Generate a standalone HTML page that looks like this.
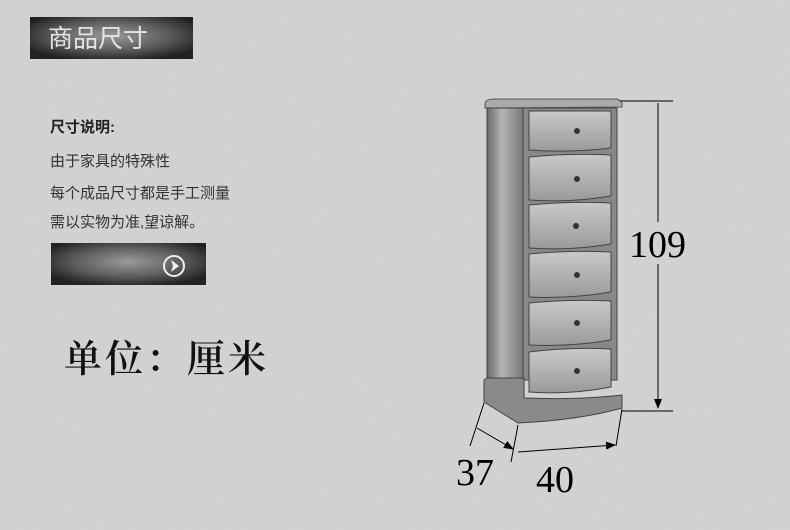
<!DOCTYPE html>
<html><head><meta charset="utf-8"><style>
body{margin:0;width:790px;height:530px;overflow:hidden;background:#d5d5d5;font-family:"Liberation Sans","Noto Sans CJK SC",sans-serif;position:relative}
.t{position:absolute;white-space:nowrap}
</style></head><body>
<svg width="790" height="530" style="position:absolute;left:0;top:0">
<defs>
<filter id="n"><feTurbulence type="fractalNoise" baseFrequency="0.9" numOctaves="2" seed="3"/><feColorMatrix values="0 0 0 0 0.5  0 0 0 0 0.5  0 0 0 0 0.5  0 0 0 0.35 0"/></filter>
<radialGradient id="g1" cx="0.5" cy="0.45" r="0.6"><stop offset="0" stop-color="#9a9a9a"/><stop offset="0.6" stop-color="#5a5a5a"/><stop offset="1" stop-color="#222"/></radialGradient>
<linearGradient id="side" x1="0" x2="1"><stop offset="0" stop-color="#6a6a6a"/><stop offset="0.4" stop-color="#b5b5b5"/><stop offset="1" stop-color="#777"/></linearGradient>
<linearGradient id="dr" x1="0" y1="0" x2="0" y2="1"><stop offset="0" stop-color="#c9c9c9"/><stop offset="1" stop-color="#9a9a9a"/></linearGradient>
<marker id="a" markerWidth="10" markerHeight="10" refX="9" refY="5" orient="auto" markerUnits="userSpaceOnUse"><path d="M0,1 L10,5 L0,9 z" fill="#000"/></marker>
</defs>
<rect width="790" height="530" fill="#d6d6d6"/>
<rect width="790" height="530" filter="url(#n)"/>
<rect x="30" y="17" width="163" height="42" fill="url(#g1)"/>
<rect x="51" y="243" width="155" height="42" fill="url(#g1)"/>
<circle cx="174" cy="266" r="10" fill="none" stroke="#eee" stroke-width="2"/>
<path d="M171,260 L179,266 L171,272 L173,266 z" fill="#eee"/>
<path d="M485,103 Q486,99 495,99 L617,99 Q623,101 622,107 L485,108 z" fill="#aaa" stroke="#555"/>
<rect x="487" y="108" width="37" height="272" fill="url(#side)" stroke="#444"/>
<rect x="523" y="108" width="94" height="272" fill="#888" stroke="#444"/>
<g fill="url(#dr)" stroke="#444">
<path d="M529,111 L611,111 L611,148 Q570,153 529,150 z"/>
<path d="M529,157 Q570,153 611,155 L611,196 Q570,203 529,200 z"/>
<path d="M529,205 Q570,201 611,203 L611,244 Q570,251 529,248 z"/>
<path d="M529,254 Q570,250 611,252 L611,292 Q570,299 529,297 z"/>
<path d="M529,303 Q570,299 611,301 L611,340 Q570,347 529,345 z"/>
<path d="M529,352 Q570,347 611,349 L611,387 Q570,395 529,392 z"/>
</g>
<g fill="#333"><circle cx="577" cy="131" r="3"/><circle cx="577" cy="179" r="3"/><circle cx="576" cy="226" r="3"/><circle cx="577" cy="275" r="3"/><circle cx="577" cy="323" r="3"/><circle cx="577" cy="371" r="3"/></g>
<path d="M484,380 L487,378 L524,378 L524,398 Q580,400 622,395 L622,408 Q580,420 518,423 L484,402 z" fill="#8a8a8a" stroke="#444"/>
<g stroke="#000" stroke-width="1" fill="none">
<line x1="620" y1="101" x2="673" y2="101"/>
<line x1="622" y1="411" x2="673" y2="411"/>
<line x1="658" y1="103" x2="658" y2="222"/>
<line x1="658" y1="264" x2="658" y2="408" marker-end="url(#a)"/>
<line x1="484" y1="403" x2="470" y2="446"/>
<line x1="518" y1="425" x2="511" y2="462"/>
<line x1="622" y1="409" x2="616" y2="446"/>
<line x1="477" y1="428" x2="513" y2="449" marker-end="url(#a)"/>
<line x1="518" y1="452" x2="615" y2="445" marker-end="url(#a)"/>
</g>
<g font-family="Liberation Serif,serif" font-size="38" fill="#000">
<text x="629" y="257">109</text>
<text x="456" y="485">37</text>
<text x="536" y="492">40</text>
</g>
</svg>
<div class="t" style="left:48px;top:19px;font-size:25px;color:#e4e4e4">商品尺寸</div>
<div class="t" style="left:50px;top:116px;font-size:15px;font-weight:bold;color:#222">尺寸说明:</div>
<div class="t" style="left:50px;top:150px;font-size:15px;color:#333">由于家具的特殊性</div>
<div class="t" style="left:50px;top:182px;font-size:15px;color:#333">每个成品尺寸都是手工测量</div>
<div class="t" style="left:50px;top:211px;font-size:15px;color:#333">需以实物为准,望谅解。</div>
<div class="t" style="left:64px;top:328px;font-size:38px;letter-spacing:3px;color:#111;font-family:'Liberation Serif','Noto Serif CJK SC',serif;font-weight:600">单位：厘米</div>
</body></html>
